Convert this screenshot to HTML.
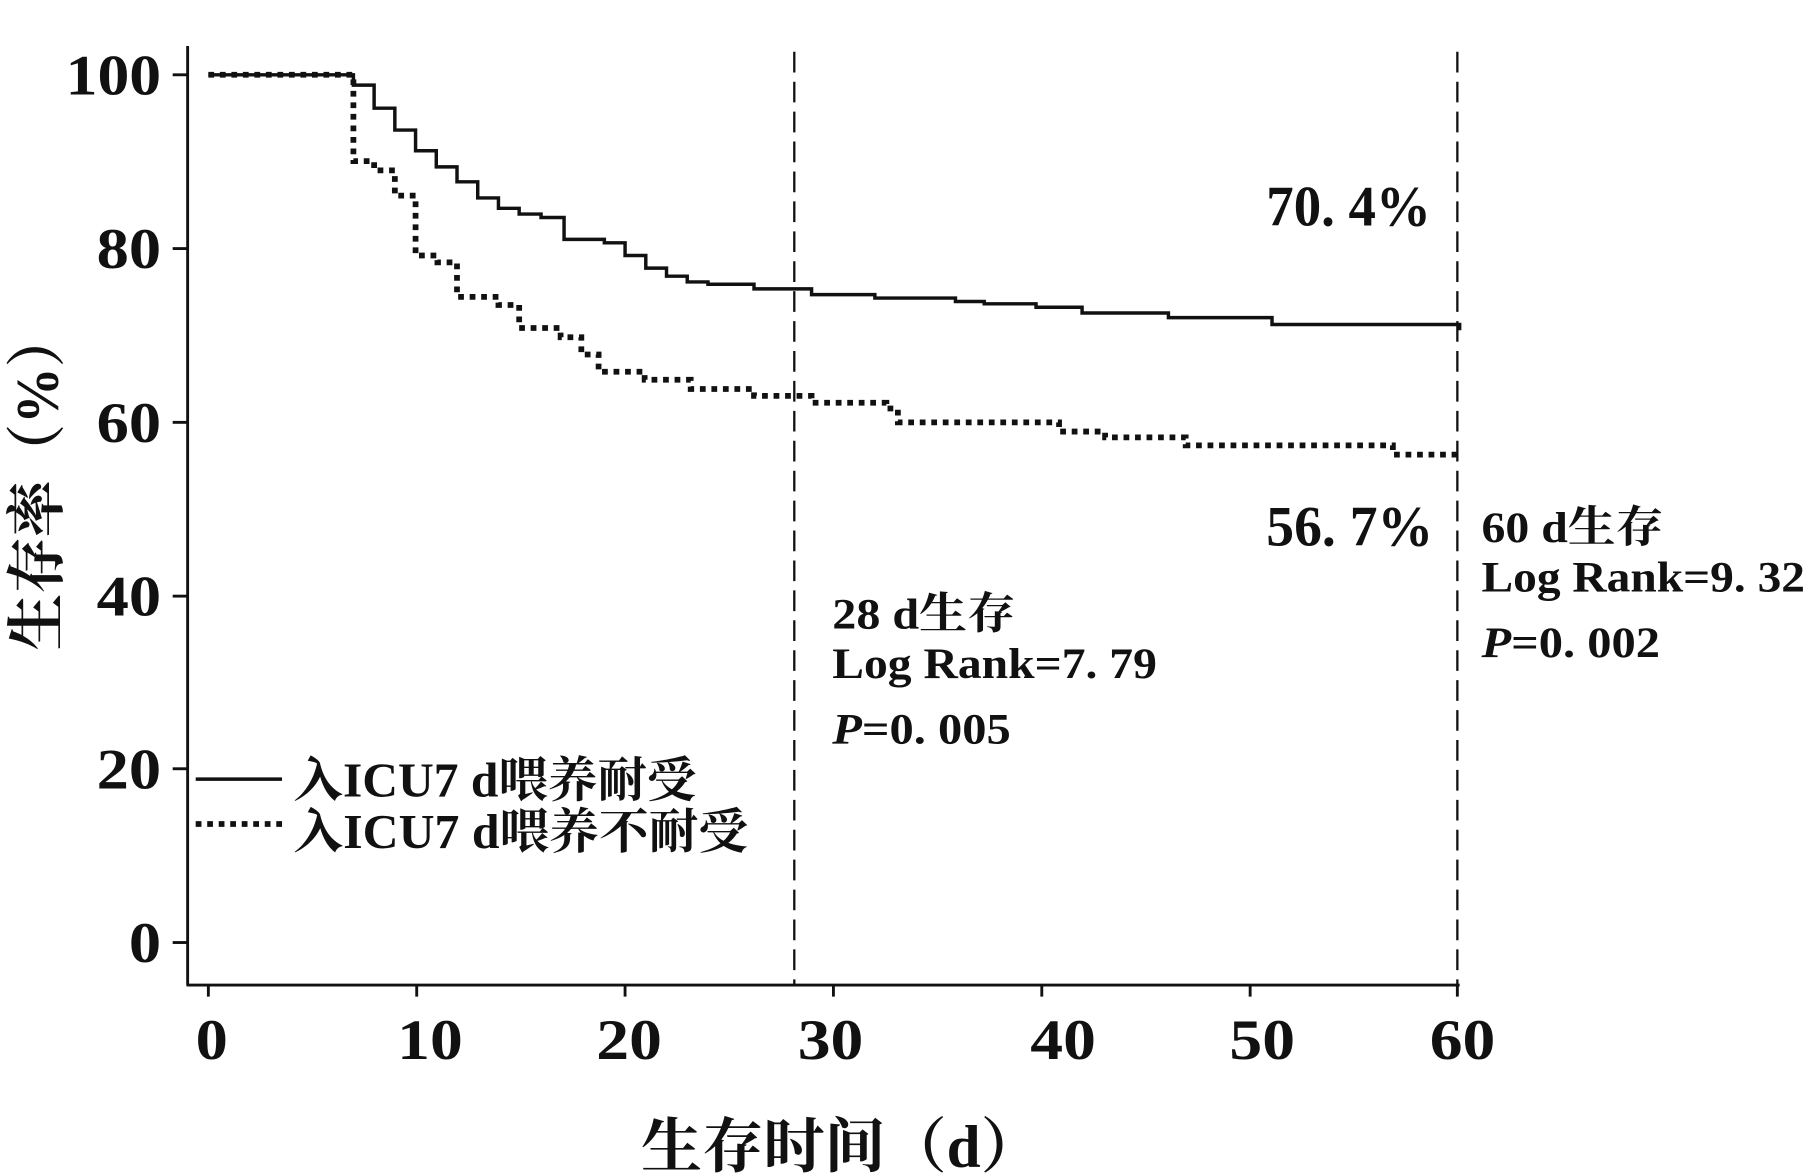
<!DOCTYPE html>
<html><head><meta charset="utf-8"><style>
html,body{margin:0;padding:0;background:#fff;}
svg{display:block;}
text{font-family:"Liberation Serif","Noto Serif CJK SC",serif;font-weight:bold;fill:#111;}
</style></head><body>
<svg width="1805" height="1175" viewBox="0 0 1568 1021" preserveAspectRatio="none" xmlns="http://www.w3.org/2000/svg">
<rect width="1568" height="1021" fill="#fff"/>
<g stroke="#111" stroke-width="2.5" fill="none">
<line x1="163" y1="40" x2="163" y2="856"/>
<line x1="162" y1="856" x2="1268" y2="856"/>
<line x1="150" y1="65" x2="163" y2="65"/>
<line x1="150" y1="216" x2="163" y2="216"/>
<line x1="150" y1="367" x2="163" y2="367"/>
<line x1="150" y1="518" x2="163" y2="518"/>
<line x1="150" y1="668" x2="163" y2="668"/>
<line x1="150" y1="819" x2="163" y2="819"/>
<line x1="181" y1="856" x2="181" y2="866"/>
<line x1="362" y1="856" x2="362" y2="866"/>
<line x1="543" y1="856" x2="543" y2="866"/>
<line x1="724" y1="856" x2="724" y2="866"/>
<line x1="905" y1="856" x2="905" y2="866"/>
<line x1="1086" y1="856" x2="1086" y2="866"/>
<line x1="1266" y1="856" x2="1266" y2="866"/>
</g>
<g stroke="#111" stroke-width="2" stroke-dasharray="18,8" fill="none">
<line x1="690" y1="45" x2="690" y2="856"/>
<line x1="1266" y1="45" x2="1266" y2="856"/>
</g>
<path fill="none" stroke="#111" stroke-width="3" d="M181 65 H307 V74 H325 V94 H343 V113 H361 V131 H379 V145 H397 V158 H415 V172 H433 V181 H451 V186 H470 V189 H490 V208 H525 V211 H543 V222 H561 V233 H579 V240 H597 V245 H615 V247 H655 V251 H705 V256 H760 V259 H830 V262 H855 V264 H900 V267 H940 V272 H1015 V276 H1105 V282 H1268 V287"/>
<path fill="none" stroke="#111" stroke-width="5" stroke-dasharray="5,5" d="M181 65 H307 V140 H325 V148 H343 V170 H361 V222 H380 V228 H397 V258 H433 V265 H451 V285 H487 V293 H505 V308 H520 V323 H560 V330 H600 V338 H655 V344 H705 V350 H770 V355 H780 V367 H920 V375 H960 V380 H1030 V387 H1210 V395 H1266"/>
<g font-size="50" lengthAdjust="spacingAndGlyphs">
<text x="57" y="82" textLength="83" lengthAdjust="spacingAndGlyphs">100</text>
<text x="84" y="233" textLength="56" lengthAdjust="spacingAndGlyphs">80</text>
<text x="84" y="384" textLength="56" lengthAdjust="spacingAndGlyphs">60</text>
<text x="84" y="535" textLength="56" lengthAdjust="spacingAndGlyphs">40</text>
<text x="84" y="685" textLength="56" lengthAdjust="spacingAndGlyphs">20</text>
<text x="112" y="836" textLength="28" lengthAdjust="spacingAndGlyphs">0</text>
<text x="170" y="920" textLength="28" lengthAdjust="spacingAndGlyphs">0</text>
<text x="345" y="920" textLength="57" lengthAdjust="spacingAndGlyphs">10</text>
<text x="518" y="920" textLength="57" lengthAdjust="spacingAndGlyphs">20</text>
<text x="693" y="920" textLength="57" lengthAdjust="spacingAndGlyphs">30</text>
<text x="895" y="920" textLength="57" lengthAdjust="spacingAndGlyphs">40</text>
<text x="1068" y="920" textLength="57" lengthAdjust="spacingAndGlyphs">50</text>
<text x="1242" y="920" textLength="57" lengthAdjust="spacingAndGlyphs">60</text>
</g>
<text x="557" y="1014" font-size="52" font-weight="normal" textLength="348" lengthAdjust="spacingAndGlyphs">生存时间（d）</text>
<text transform="translate(50,565) rotate(-90)" font-size="52" font-weight="normal" textLength="295" lengthAdjust="spacingAndGlyphs">生存率（%）</text>
<text x="1100" y="196" font-size="50" textLength="143" lengthAdjust="spacingAndGlyphs">70. 4%</text>
<text x="1100" y="474" font-size="50" textLength="145" lengthAdjust="spacingAndGlyphs">56. 7%</text>
<g font-size="38">
<text x="723" y="546" textLength="159" lengthAdjust="spacingAndGlyphs">28 d生存</text>
<text x="723" y="589" textLength="282" lengthAdjust="spacingAndGlyphs">Log Rank=7. 79</text>
<text x="723" y="646" textLength="155" lengthAdjust="spacingAndGlyphs"><tspan font-style="italic">P</tspan>=0. 005</text>
<text x="1287" y="471" textLength="158" lengthAdjust="spacingAndGlyphs">60 d生存</text>
<text x="1287" y="514" textLength="281" lengthAdjust="spacingAndGlyphs">Log Rank=9. 32</text>
<text x="1287" y="571" textLength="155" lengthAdjust="spacingAndGlyphs"><tspan font-style="italic">P</tspan>=0. 002</text>
</g>
<line x1="170" y1="677" x2="245" y2="677" stroke="#111" stroke-width="3"/>
<line x1="170" y1="716" x2="245" y2="716" stroke="#111" stroke-width="5" stroke-dasharray="5,5"/>
<g font-size="42" font-weight="normal">
<text x="255" y="692" textLength="350" lengthAdjust="spacingAndGlyphs">入ICU7 d喂养耐受</text>
<text x="255" y="737" textLength="395" lengthAdjust="spacingAndGlyphs">入ICU7 d喂养不耐受</text>
</g>
</svg>
</body></html>
